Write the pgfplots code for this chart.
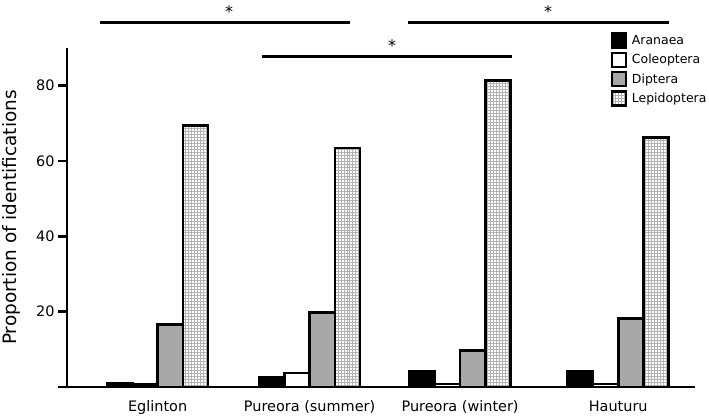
\documentclass[border=0pt]{standalone}
\usepackage{pgfplots}
\pgfplotsset{compat=1.18}
\usepackage{fontspec}
\setmainfont{DejaVu Sans}
\usetikzlibrary{patterns}

\definecolor{dipgray}{HTML}{A8A8A8}

\begin{document}
\begin{tikzpicture}
\begin{axis}[
    name=main,
    scale only axis,
    width=628bp, height=339bp,
    xmin=-0.59, xmax=3.50,
    ymin=0, ymax=90,
    axis lines=left,
    axis line style={-, line width=2.6bp},
    ybar=0pt,
    bar width=0.1645,
    xtick={0,0.99,1.97,3},
    xticklabels={Eglinton, Pureora (summer), Pureora (winter), Hauturu},
    xtick style={draw=none},
    ytick={0,20,40,60,80},
    yticklabels={,20,40,60,80},
    ytick style={line width=2.6bp, black},
    tick align=outside,
    major tick length=9bp,
    /pgf/number format/assume math mode=true,
    tick label style={font=\fontsize{14.5}{17}\selectfont},
    xticklabel style={font=\fontsize{14.5}{17}\selectfont, yshift=-1bp},
    ylabel={Proportion of identifications},
    ylabel style={at={(axis description cs:-0.088,0.5)}, anchor=center,
                  font=\fontsize{18.5}{20}\selectfont},
    clip=false,
    every axis plot/.append style={draw=black, line width=2.6bp},
    legend image code/.code={\draw[#1, line width=2.4bp] (0bp,-7bp) rectangle (14bp,7bp);},
    legend style={at={(0.866,1.047)}, anchor=north west, draw=none, fill=none,
                  font=\fontsize{12.5}{15}\selectfont, row sep=3bp, column sep=3bp,
                  inner sep=0pt, nodes={inner sep=1.5bp}},
    legend cell align=left,
  ]
  \addplot[fill=black] coordinates {(0,1.0) (0.99,2.6) (1.97,4.2) (3,4.2)};
  \addplot[fill=white] coordinates {(0,0.7) (0.99,3.7) (1.97,0.8) (3,0.8)};
  \addplot[fill=dipgray] coordinates {(0,16.6) (0.99,19.8) (1.97,9.7) (3,18.2)};
  \addplot[fill=white, postaction={pattern=grid, pattern color=gray!60}]
    coordinates {(0,69.4) (0.99,63.5) (1.97,81.3) (3,66.2)};
  \legend{Aranaea, Coleoptera, Diptera, Lepidoptera}

  % significance bars
  \draw[line width=2.6bp] (axis cs:-0.375,96.7) -- (axis cs:1.254,96.7);
  \draw[line width=2.6bp] (axis cs:1.632,96.7) -- (axis cs:3.332,96.7);
  \draw[line width=2.6bp] (axis cs:0.681,87.7) -- (axis cs:2.309,87.7);
  \node[font=\fontsize{16}{18}\selectfont] at (axis cs:0.466,99.6) {*};
  \node[font=\fontsize{16}{18}\selectfont] at (axis cs:2.544,99.6) {*};
  \node[font=\fontsize{16}{18}\selectfont] at (axis cs:1.528,90.6) {*};
\end{axis}
\pgfresetboundingbox
\path ([shift={(-67bp,-31bp)}]main.south west) rectangle ([shift={(642bp,387bp)}]main.south west);
\end{tikzpicture}
\end{document}
